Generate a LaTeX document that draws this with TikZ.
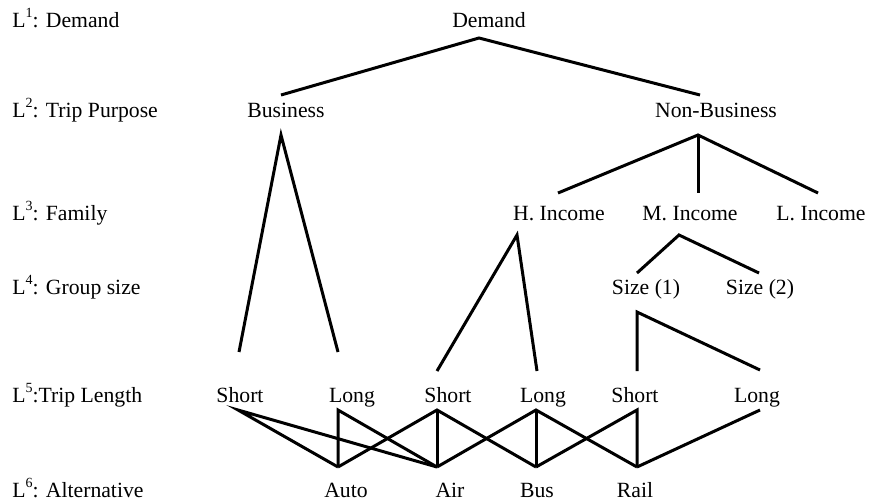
\documentclass[tikz,border=0pt]{standalone}
\usepackage{fontspec}
\setmainfont{Liberation Serif}
\newcommand{\lsup}[1]{\raisebox{0.45em}{\fontsize{7}{8}\selectfont #1}}
\begin{document}
\begin{tikzpicture}[x=0.5pt,y=-0.5pt,
  lbl/.style={anchor=base,inner sep=0pt,font=\fontsize{10.85}{13}\selectfont},
  lvl/.style={anchor=base west,inner sep=0pt,font=\fontsize{10.85}{13}\selectfont},
  edge/.style={line width=1.5pt,line join=miter}]
\useasboundingbox (0,0) rectangle (872,500);
% level labels
\node[lvl] (L1) at (12,27) {L\lsup{1}: Demand};
\node[lvl] (L2) at (12,117) {L\lsup{2}: Trip Purpose};
\node[lvl] (L3) at (12,220) {L\lsup{3}: Family};
\node[lvl] (L4) at (12,294) {L\lsup{4}: Group size};
\node[lvl] (L5) at (12,402) {L\lsup{5}:Trip Length};
\node[lvl] (L6) at (12,497) {L\lsup{6}: Alternative};
% tree nodes
\node[lbl] (dem) at (489,27) {Demand};
\node[lbl] (bus) at (286,117) {Business};
\node[lbl] (nbus) at (716,117) {Non-Business};
\node[lbl] (hi) at (559,220) {H. Income};
\node[lbl] (mi) at (690,220) {M. Income};
\node[lbl] (li) at (821,220) {L. Income};
\node[lbl] (sz1) at (646,294) {Size (1)};
\node[lbl] (sz2) at (760,294) {Size (2)};
\node[lbl] (s1) at (240,402) {Short};
\node[lbl] (l1) at (352,402) {Long};
\node[lbl] (s2) at (448,402) {Short};
\node[lbl] (l2) at (543,402) {Long};
\node[lbl] (s3) at (635,402) {Short};
\node[lbl] (l3) at (757,402) {Long};
\node[lbl] (auto) at (346,497) {Auto};
\node[lbl] (air) at (450,497) {Air};
\node[lbl] (bus6) at (537,497) {Bus};
\node[lbl] (rail) at (635,497) {Rail};
% connector points
\coordinate (dA) at (479,38);
\coordinate (bT) at (281,95);
\coordinate (nbT) at (700,95);
\coordinate (bA) at (281,135);
\coordinate (s1T) at (239,352);
\coordinate (l1T) at (338,352);
\coordinate (nbA) at (698,135);
\coordinate (hiT) at (558,193);
\coordinate (miT) at (698,193);
\coordinate (liT) at (818,193);
\coordinate (hiA) at (517,235);
\coordinate (s2U) at (437,371);
\coordinate (l2U) at (537,371);
\coordinate (miA) at (679,235);
\coordinate (sz1T) at (637,273);
\coordinate (sz2T) at (759,273);
\coordinate (szA) at (637,312);
\coordinate (s3U) at (637,371);
\coordinate (l3U) at (760,370);
\coordinate (s1B) at (238,410);
\coordinate (l1B) at (338,410);
\coordinate (s2B) at (437,410);
\coordinate (l2B) at (536,410);
\coordinate (s3B) at (637,410);
\coordinate (l3B) at (760,410);
\coordinate (auB) at (338,467);
\coordinate (aiB) at (437,467);
\coordinate (buB) at (536,467);
\coordinate (raB) at (637,467);
% upper tree
\draw[edge] (bT) -- (dA) -- (nbT);
\draw[edge] (s1T) -- (bA) -- (l1T);
\draw[edge] (hiT) -- (nbA) -- (liT);
\draw[edge] (nbA) -- (miT);
\draw[edge] (s2U) -- (hiA) -- (l2U);
\draw[edge] (sz1T) -- (miA) -- (sz2T);
\draw[edge] (s3U) -- (szA) -- (l3U);
% alternatives
\draw[edge] (auB) -- (s1B) -- (aiB);
\draw[edge] (auB) -- (l1B) -- (aiB);
\draw[edge] (auB) -- (s2B) -- (buB);
\draw[edge] (s2B) -- (aiB);
\draw[edge] (aiB) -- (l2B) -- (raB);
\draw[edge] (l2B) -- (buB);
\draw[edge] (buB) -- (s3B) -- (raB);
\draw[edge] (raB) -- (l3B);
\end{tikzpicture}
\end{document}
